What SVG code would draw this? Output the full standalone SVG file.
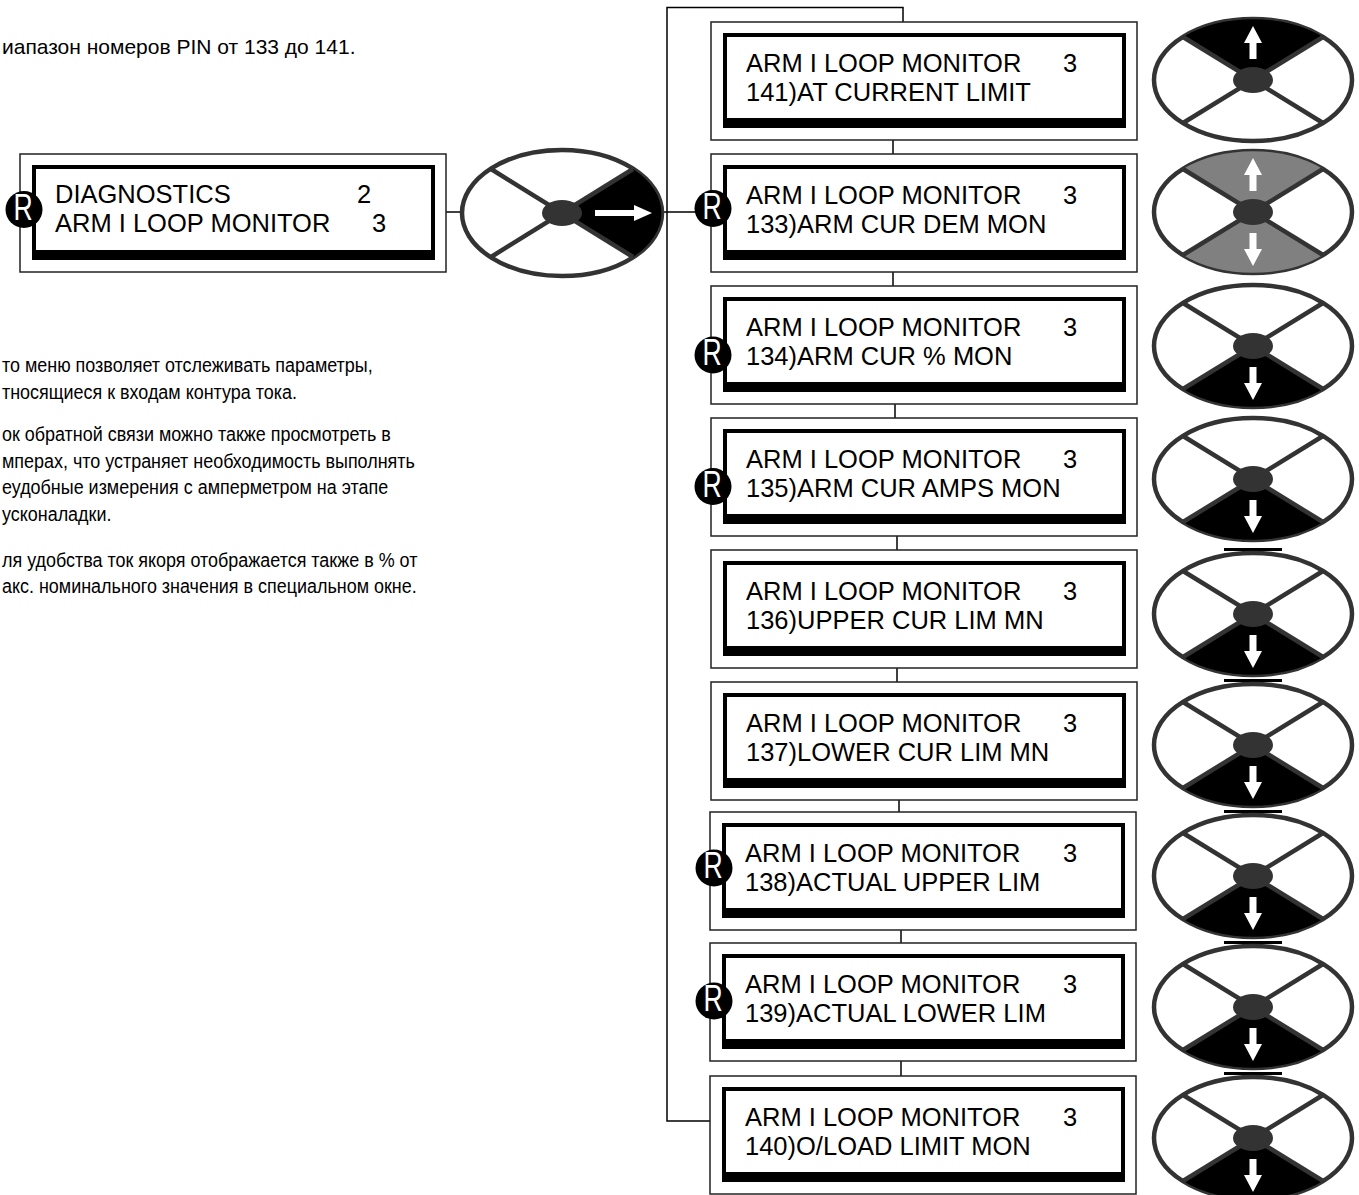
<svg xmlns="http://www.w3.org/2000/svg" width="1359" height="1195" viewBox="0 0 1359 1195">
<style>
.outer{fill:#fff;stroke:#222;stroke-width:1.5}
.ink{fill:#000}
.win{fill:#fff}
.lcd{font-family:"Liberation Sans",Arial,sans-serif;font-size:25.5px;fill:#000}
.para{font-family:"Liberation Sans",Arial,sans-serif;font-size:21px;fill:#000}
.conn{fill:none;stroke:#000;stroke-width:1.5}
.rc{fill:#000}
.rt{font-family:"Liberation Sans",Arial,sans-serif;font-size:37px;fill:#fff;text-anchor:middle}
.ell{fill:#fff;stroke:#333;stroke-width:4.5}
.spk{stroke:#333;stroke-width:4.5}
.dot{fill:#333}
.blk{fill:#000}
.gry{fill:#808080}
.arr{fill:#fff}
</style>
<defs>
<g id="joy">
<ellipse class="ell" cx="0" cy="0" rx="99" ry="61"/>
</g>
<g id="spokes">
<line class="spk" x1="-70" y1="-43" x2="70" y2="43"/>
<line class="spk" x1="-70" y1="43" x2="70" y2="-43"/>
<ellipse class="dot" cx="0" cy="0" rx="20" ry="13"/>
</g>
<path id="topSec" d="M0,0 L-70,-43 A99,61 0 0 1 70,-43 Z"/>
<path id="botSec" d="M0,0 L70,43 A99,61 0 0 1 -70,43 Z"/>
<polygon id="upArr" points="-3.5,-21 -3.5,-37 -9,-37 0,-54 9,-37 3.5,-37 3.5,-21"/>
<polygon id="dnArr" points="-3.5,21 -3.5,37 -9,37 0,54 9,37 3.5,37 3.5,21"/>
<g id="rmark">
<circle class="rc" cx="0" cy="0" r="18.5"/>
<text class="rt" transform="translate(-1,10) scale(0.72,1)" x="0" y="0">R</text>
</g>
</defs>

<g id="intro-text">
<text class="para" x="2" y="54">иапазон номеров PIN от 133 до 141.</text>
<g transform="translate(2,0) scale(0.855,1)">
<text class="para" x="0" y="372">то меню позволяет отслеживать параметры,</text>
<text class="para" x="0" y="399">тносящиеся к входам контура тока.</text>
<text class="para" x="0" y="441">ок обратной связи можно также просмотреть в</text>
<text class="para" x="0" y="468">мперах, что устраняет необходимость выполнять</text>
<text class="para" x="0" y="494">еудобные измерения с амперметром на этапе</text>
<text class="para" x="0" y="521">усконаладки.</text>
<text class="para" x="0" y="567">ля удобства ток якоря отображается также в % от</text>
<text class="para" x="0" y="593">акс. номинального значения в специальном окне.</text>
</g>
</g>

<g id="connectors">
<path class="conn" d="M446,212 H462"/>
<path class="conn" d="M662,212 H710"/>
<path class="conn" d="M710,1121 H667 V7.5 H903 V22"/>
<path class="conn" d="M893,140 V154"/>
<path class="conn" d="M893,272 V286"/>
<path class="conn" d="M895,404 V418"/>
<path class="conn" d="M897,536 V550"/>
<path class="conn" d="M897,668 V682"/>
<path class="conn" d="M899,800 V812"/>
<path class="conn" d="M901,930 V943"/>
<path class="conn" d="M901,1061 V1076"/>
</g>

<g id="node-diagnostics">
<rect class="outer" x="20" y="154" width="426" height="118"/>
<rect class="ink" x="32" y="165" width="403" height="95"/>
<rect class="win" x="36" y="169" width="395" height="81"/>
<text class="lcd" x="55" y="203">DIAGNOSTICS</text>
<text class="lcd" x="357" y="203">2</text>
<text class="lcd" x="55" y="232">ARM I LOOP MONITOR</text>
<text class="lcd" x="372" y="232">3</text>
<use href="#rmark" x="24" y="209.5"/>
</g>

<g id="joy-right-enter" transform="translate(562,213)">
<ellipse class="ell" cx="0" cy="0" rx="100" ry="63"/>
<path class="blk" d="M0,0 L71,-44 A100,63 0 0 1 71,44 Z"/>
<line class="spk" x1="-71" y1="-44" x2="71" y2="44"/>
<line class="spk" x1="-71" y1="44" x2="71" y2="-44"/>
<ellipse class="dot" cx="0" cy="0" rx="20" ry="13"/>
<polygon class="arr" points="33,-3 72,-3 72,-8 90,0 72,8 72,3 33,3"/>
</g>

<g id="node-141">
<rect class="outer" x="711" y="22" width="426" height="118"/>
<rect class="ink" x="723" y="33" width="403" height="95"/>
<rect class="win" x="727" y="37" width="395" height="81"/>
<text class="lcd" x="746" y="71.5">ARM I LOOP MONITOR</text>
<text class="lcd" x="1063" y="71.5">3</text>
<text class="lcd" x="746" y="101">141)AT CURRENT LIMIT</text>
</g>
<g id="node-133">
<rect class="outer" x="711" y="154" width="426" height="118"/>
<rect class="ink" x="723" y="165" width="403" height="95"/>
<rect class="win" x="727" y="169" width="395" height="81"/>
<text class="lcd" x="746" y="203.5">ARM I LOOP MONITOR</text>
<text class="lcd" x="1063" y="203.5">3</text>
<text class="lcd" x="746" y="233">133)ARM CUR DEM MON</text>
<use href="#rmark" x="713" y="208.5"/>
</g>
<g id="node-134">
<rect class="outer" x="711" y="286" width="426" height="118"/>
<rect class="ink" x="723" y="297" width="403" height="95"/>
<rect class="win" x="727" y="301" width="395" height="81"/>
<text class="lcd" x="746" y="335.5">ARM I LOOP MONITOR</text>
<text class="lcd" x="1063" y="335.5">3</text>
<text class="lcd" x="746" y="365">134)ARM CUR % MON</text>
<use href="#rmark" x="713" y="355"/>
</g>
<g id="node-135">
<rect class="outer" x="711" y="418" width="426" height="118"/>
<rect class="ink" x="723" y="429" width="403" height="95"/>
<rect class="win" x="727" y="433" width="395" height="81"/>
<text class="lcd" x="746" y="467.5">ARM I LOOP MONITOR</text>
<text class="lcd" x="1063" y="467.5">3</text>
<text class="lcd" x="746" y="497">135)ARM CUR AMPS MON</text>
<use href="#rmark" x="713" y="486.5"/>
</g>
<g id="node-136">
<rect class="outer" x="711" y="550" width="426" height="118"/>
<rect class="ink" x="723" y="561" width="403" height="95"/>
<rect class="win" x="727" y="565" width="395" height="81"/>
<text class="lcd" x="746" y="599.5">ARM I LOOP MONITOR</text>
<text class="lcd" x="1063" y="599.5">3</text>
<text class="lcd" x="746" y="629">136)UPPER CUR LIM MN</text>
</g>
<g id="node-137">
<rect class="outer" x="711" y="682" width="426" height="118"/>
<rect class="ink" x="723" y="693" width="403" height="95"/>
<rect class="win" x="727" y="697" width="395" height="81"/>
<text class="lcd" x="746" y="731.5">ARM I LOOP MONITOR</text>
<text class="lcd" x="1063" y="731.5">3</text>
<text class="lcd" x="746" y="761">137)LOWER CUR LIM MN</text>
</g>
<g id="node-138">
<rect class="outer" x="710" y="812" width="426" height="118"/>
<rect class="ink" x="722" y="823" width="403" height="95"/>
<rect class="win" x="726" y="827" width="395" height="81"/>
<text class="lcd" x="745" y="861.5">ARM I LOOP MONITOR</text>
<text class="lcd" x="1063" y="861.5">3</text>
<text class="lcd" x="745" y="891">138)ACTUAL UPPER LIM</text>
<use href="#rmark" x="714" y="868"/>
</g>
<g id="node-139">
<rect class="outer" x="710" y="943" width="426" height="118"/>
<rect class="ink" x="722" y="954" width="403" height="95"/>
<rect class="win" x="726" y="958" width="395" height="81"/>
<text class="lcd" x="745" y="992.5">ARM I LOOP MONITOR</text>
<text class="lcd" x="1063" y="992.5">3</text>
<text class="lcd" x="745" y="1022">139)ACTUAL LOWER LIM</text>
<use href="#rmark" x="714" y="1001"/>
</g>
<g id="node-140">
<rect class="outer" x="710" y="1076" width="426" height="118"/>
<rect class="ink" x="722" y="1087" width="403" height="95"/>
<rect class="win" x="726" y="1091" width="395" height="81"/>
<text class="lcd" x="745" y="1125.5">ARM I LOOP MONITOR</text>
<text class="lcd" x="1063" y="1125.5">3</text>
<text class="lcd" x="745" y="1155">140)O/LOAD LIMIT MON</text>
</g>

<g id="joy-141" transform="translate(1253,80)">
<use href="#joy"/><use href="#topSec" class="blk"/><use href="#spokes"/><use href="#upArr" class="arr"/>
</g>
<g id="joy-133" transform="translate(1253,212)">
<use href="#joy"/><use href="#topSec" class="gry"/><use href="#botSec" class="gry"/><use href="#spokes"/><use href="#upArr" class="arr"/><use href="#dnArr" class="arr"/>
</g>
<g id="joy-134" transform="translate(1253,346)">
<use href="#joy"/><use href="#botSec" class="blk"/><use href="#spokes"/><use href="#dnArr" class="arr"/>
</g>
<g id="joy-135" transform="translate(1253,479)">
<use href="#joy"/><use href="#botSec" class="blk"/><use href="#spokes"/><use href="#dnArr" class="arr"/>
</g>
<g id="joy-136" transform="translate(1253,614)">
<rect class="blk" x="-29" y="-66" width="58" height="3"/>
<use href="#joy"/><use href="#botSec" class="blk"/><use href="#spokes"/><use href="#dnArr" class="arr"/>
</g>
<g id="joy-137" transform="translate(1253,745)">
<rect class="blk" x="-29" y="-66" width="58" height="3"/>
<use href="#joy"/><use href="#botSec" class="blk"/><use href="#spokes"/><use href="#dnArr" class="arr"/>
</g>
<g id="joy-138" transform="translate(1253,876)">
<rect class="blk" x="-29" y="-66" width="58" height="3"/>
<use href="#joy"/><use href="#botSec" class="blk"/><use href="#spokes"/><use href="#dnArr" class="arr"/>
</g>
<g id="joy-139" transform="translate(1253,1007)">
<rect class="blk" x="-29" y="-66" width="58" height="3"/>
<use href="#joy"/><use href="#botSec" class="blk"/><use href="#spokes"/><use href="#dnArr" class="arr"/>
</g>
<g id="joy-140" transform="translate(1253,1138)">
<rect class="blk" x="-29" y="-66" width="58" height="3"/>
<use href="#joy"/><use href="#botSec" class="blk"/><use href="#spokes"/><use href="#dnArr" class="arr"/>
</g>
</svg>
